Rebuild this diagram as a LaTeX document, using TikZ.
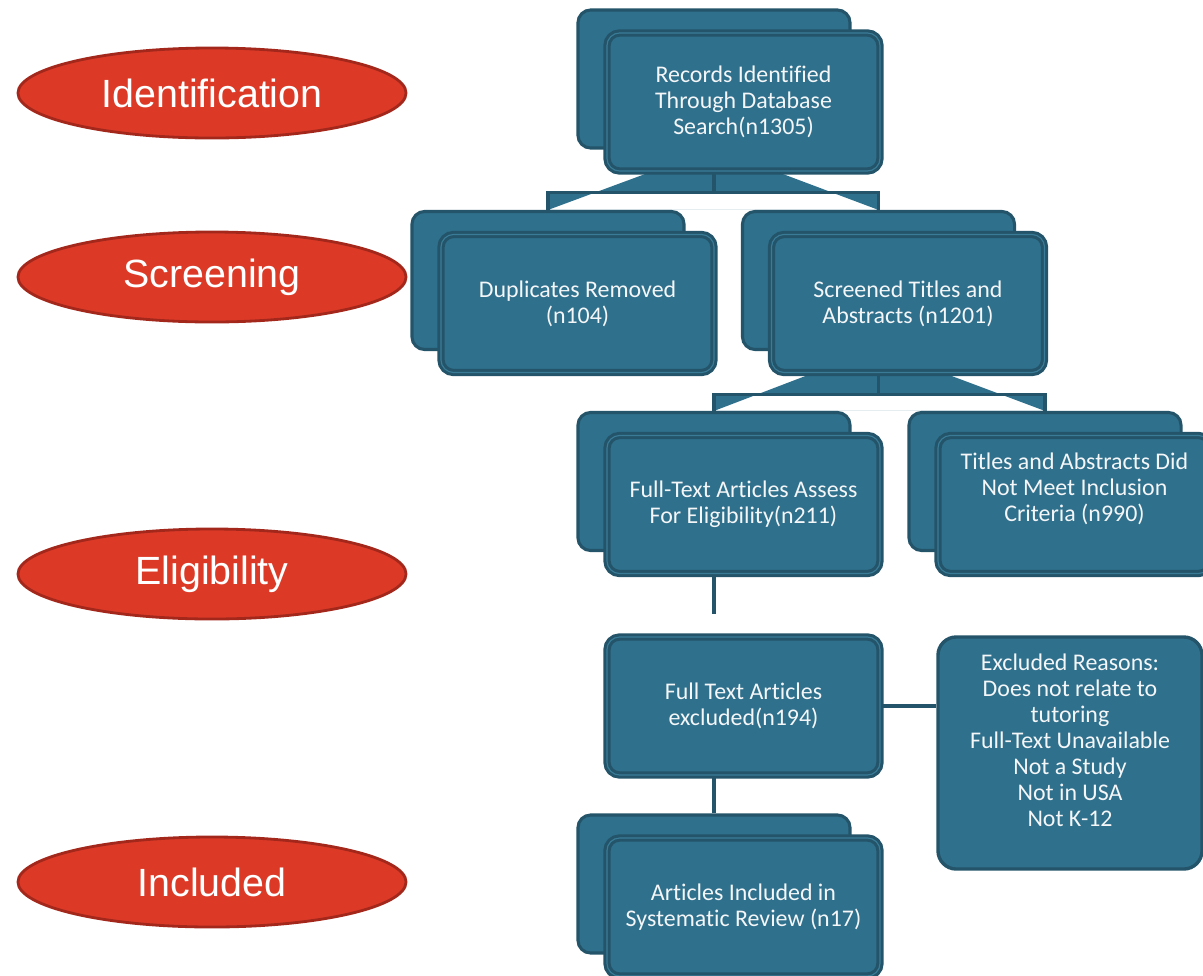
\documentclass[tikz,border=0pt]{standalone}
\usepackage{fontspec}
\setmainfont{Carlito}[Ligatures=CommonOff]
\newfontfamily\phasefont{Liberation Sans}
\usepackage{tikz}
\usetikzlibrary{shapes.geometric,calc,backgrounds}
\definecolor{tealfill}{HTML}{2F708C}
\definecolor{tealline}{HTML}{245469}
\definecolor{teallight}{HTML}{3A7C98}
\definecolor{phasered}{HTML}{DC3A27}
\definecolor{phaseline}{HTML}{A3281B}
\definecolor{boxtext}{HTML}{F4F6F8}
\tikzset{
  backbox/.style={
    rounded corners=9pt,
    draw=tealline,
    fill=tealfill,
    line width=2.2pt,
    minimum width=6.8cm,
    minimum height=3.45cm,
    inner sep=0pt
  },
  frontbox/.style={
    backbox,
    double=teallight,
    double distance=0.8pt,
    line width=2.2pt,
    align=center,
    text=boxtext,
    font=\fontsize{17}{18.5}\selectfont,
    minimum width=6.825cm
  },
  reasonbox/.style={
    backbox,
    rounded corners=13pt,
    line width=2.4pt,
    align=center,
    text=boxtext,
    font=\fontsize{17}{18.5}\selectfont,
    minimum width=6.6cm,
    minimum height=5.8cm
  },
  phase/.style={
    ellipse,
    fill=phasered,
    draw=phaseline,
    line width=2pt,
    text=white,
    font=\phasefont\fontsize{28}{32}\selectfont,
    minimum width=9.7cm,
    minimum height=2.25cm,
    inner sep=0pt
  },
  link/.style={draw=tealline, line width=2.3pt},
  fan/.style={fill=tealfill}
}
\begin{document}
\begin{tikzpicture}[x=0.025cm, y=-0.025cm]
  \useasboundingbox (0,0) rectangle (1203,975);
  \clip (0,0) rectangle (1203,975);

  \node[phase] (ph1) at (212,93) {Identification};
  \node[phase] (ph2) at (212,277) {Screening};
  \node[phase] (ph3) at (212,574) {Eligibility};
  \node[phase] (ph4) at (212,882) {Included};

  \node[backbox] (s1b) at (714,79) {};
  \node[frontbox] (s1) at (743.5,102) {Records Identified\\Through Database\\Search(n1305)};
  \node[backbox] (s2b) at (548,280.5) {};
  \node[frontbox] (s2) at (577.5,303.5) {Duplicates Removed\\(n104)};
  \node[backbox] (s3b) at (878.5,280.5) {};
  \node[frontbox] (s3) at (908,303.5) {Screened Titles and\\Abstracts (n1201)};
  \node[backbox] (s4b) at (714,481.5) {};
  \node[frontbox] (s4) at (743.5,504.5) {Full-Text Articles Assess\\For Eligibility(n211)};
  \node[backbox] (s5b) at (1045,481.5) {};
  \node[frontbox] (s5) at (1074.5,504.5) {Titles and Abstracts Did\\Not Meet Inclusion\\Criteria (n990)\rule[-0.85cm]{0pt}{0.85cm}};
  \node[frontbox] (s6) at (743.5,706) {Full Text Articles\\excluded(n194)};
  \node[reasonbox] (s7) at (1070,753) {Excluded Reasons:\\Does not relate to\\tutoring\\Full-Text Unavailable\\Not a Study\\Not in USA\\Not K-12\rule[-0.65cm]{0pt}{0.65cm}};
  \node[backbox] (s8b) at (714,884) {};
  \node[frontbox] (s8) at (743.5,907) {Articles Included in\\Systematic Review (n17)};

  \begin{scope}[on background layer]
    \coordinate (bar1) at ($(s1b.south)+(0,43)$);
    \coordinate (fan1) at (s1b.south |- s1.south);
    \fill[fan, even odd rule] ($(fan1)+(-65,0)$) -- ($(fan1)+(65,0)$) -- (s3b.north) -- (s2b.north) -- cycle
      (s2b.north) rectangle (bar1 -| s3b.north);
    \draw[link] (s1b.south) -- (bar1);
    \draw[link] (s2b.north) |- (bar1) -| (s3b.north);

    \coordinate (bar2) at ($(s3b.south)+(0,43.5)$);
    \coordinate (fan2) at (s3b.south |- s3.south);
    \fill[fan, even odd rule] ($(fan2)+(-68,0)$) -- ($(fan2)+(68,0)$) -- (s5b.north) -- (s4b.north) -- cycle
      (s4b.north) rectangle (bar2 -| s5b.north);
    \draw[link] (s3b.south) -- (bar2);
    \draw[link] (s4b.north) |- (bar2) -| (s5b.north);

    \coordinate (s4end) at ($(s4b.south)+(0,62)$);
    \draw[link] (s4b.south) -- (s4end);
    \draw[link] (s6) -- (s6 -| s7.west);
    \draw[link] (s8b.north) -- (s8b.north |- s6.south);
  \end{scope}
\end{tikzpicture}
\end{document}
